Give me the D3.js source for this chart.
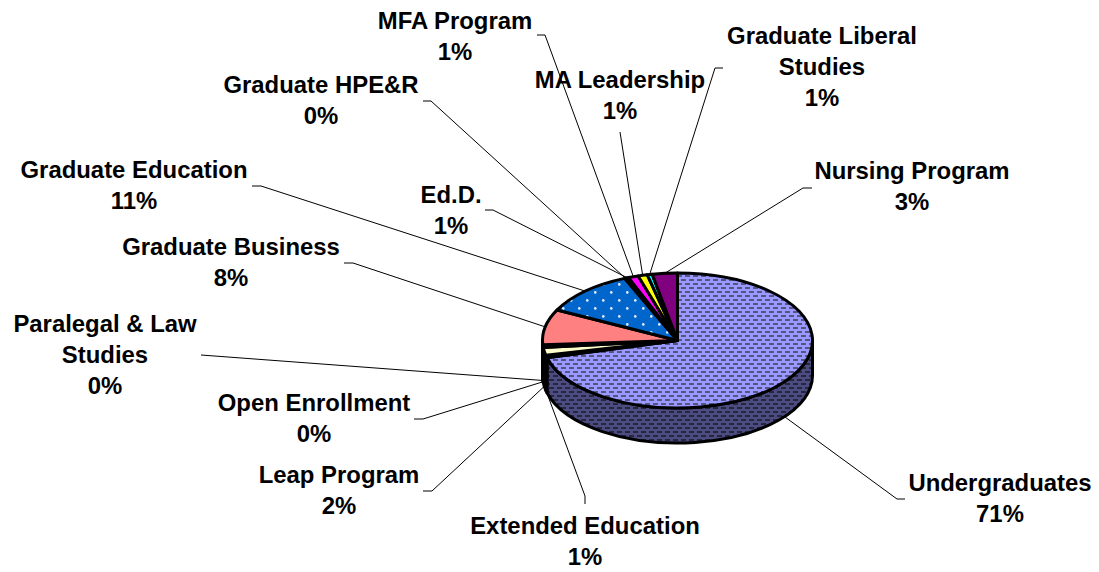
<!DOCTYPE html>
<html>
<head>
<meta charset="utf-8">
<script src="https://cdn.jsdelivr.net/npm/d3@7"></script>
<style>
html, body { margin: 0; padding: 0; background: #fff; }
text { font-family: "Liberation Sans", Arial, sans-serif; font-weight: bold; font-size: 23.9px; fill: #000; }
</style>
</head>
<body>
<div id="chart"></div>
<script>
const categories = ["Undergraduates", "Extended Education", "Leap Program", "Open Enrollment", "Paralegal & Law Studies",
    "Graduate Business", "Graduate Education", "Graduate HPE&R", "Ed.D.", "MFA Program", "MA Leadership",
    "Graduate Liberal Studies", "Nursing Program"];
const shares = [70.8, 0.6, 1.9, 0.3, 0.3, 8.5, 11.1, 0.2, 0.3, 1.2, 1.1, 0.6, 3.0];
const percentLabels = ["71%", "1%", "2%", "0%", "0%", "8%", "11%", "0%", "1%", "1%", "1%", "1%", "3%"];
const sliceColors = ["#9999FF", "#993366", "#FFFFCC", "#CCFFFF", "#660066", "#FF8080", "#0066CC",
    "#CCCCFF", "#000080", "#FF00FF", "#FFFF00", "#00FFFF", "#800080"];

// label placement: wrapped name lines, centre x, centre y of first line, leader start + elbow
const labelLayout = [
    {lines: ["Undergraduates"], x: 1000, y: 483, leader: [[905, 499], [897, 499]]},
    {lines: ["Extended Education"], x: 585, y: 526, leader: [[585, 504], [585, 496]]},
    {lines: ["Leap Program"], x: 339, y: 475, leader: [[423, 491], [432, 491]]},
    {lines: ["Open Enrollment"], x: 314, y: 403, leader: [[414, 419], [423, 419]]},
    {lines: ["Paralegal & Law", "Studies"], x: 105, y: 324, leader: [[201, 355]]},
    {lines: ["Graduate Business"], x: 231, y: 247, leader: [[344, 263], [353, 263]]},
    {lines: ["Graduate Education"], x: 134, y: 170, leader: [[252, 186], [261, 186]]},
    {lines: ["Graduate HPE&R"], x: 321, y: 85, leader: [[423, 101], [431, 101]]},
    {lines: ["Ed.D."], x: 451, y: 195, leader: [[485, 210], [493, 210]]},
    {lines: ["MFA Program"], x: 455, y: 21, leader: [[537, 35], [545, 35]]},
    {lines: ["MA Leadership"], x: 620, y: 80, leader: [[620, 132]]},
    {lines: ["Graduate Liberal", "Studies"], x: 822, y: 36, leader: [[723, 68], [715, 68]]},
    {lines: ["Nursing Program"], x: 912, y: 171, leader: [[812, 188], [803, 188]]}
];

const width = 1099, height = 572;
const cx = 677.5, cy = 340.5, rx = 135, ry = 67.5, depth = 35;
const lineHeight = 31;

const svg = d3.select("#chart").append("svg")
    .attr("width", width)
    .attr("height", height)
    .style("display", "block");

const defs = svg.append("defs");

function dashPattern(id, bg, dash) {
    const p = defs.append("pattern").attr("id", id)
        .attr("patternUnits", "userSpaceOnUse").attr("width", 8).attr("height", 8);
    p.append("rect").attr("width", 8).attr("height", 8).attr("fill", bg);
    [[1, 7], [1, -1], [5, 3], [-3, 3]].forEach(d => {
        p.append("rect").attr("x", d[0]).attr("y", d[1]).attr("width", 5).attr("height", 2).attr("fill", dash);
    });
    return "url(#" + id + ")";
}

const topFill = dashPattern("dashTop", "#9999FF", "#55557f");
const wallFill = dashPattern("dashWall", "#4c4c80", "#26263f");

const dots = defs.append("pattern").attr("id", "dots")
    .attr("patternUnits", "userSpaceOnUse").attr("width", 16).attr("height", 16);
dots.append("rect").attr("width", 16).attr("height", 16).attr("fill", "#0066CC");
[[3.3, 4.4], [11.3, 12.4]].forEach(d => {
    dots.append("circle").attr("cx", d[0]).attr("cy", d[1]).attr("r", 1.3).attr("fill", "#e6f0ff");
});

const pie = d3.pie().sort(null).value(d => d)(shares);

const px = a => cx + rx * Math.sin(a);
const py = a => cy - ry * Math.cos(a);

function slicePath(d) {
    const large = d.endAngle - d.startAngle > Math.PI ? 1 : 0;
    return `M${cx},${cy}L${px(d.startAngle)},${py(d.startAngle)}A${rx},${ry} 0 ${large} 1 ${px(d.endAngle)},${py(d.endAngle)}Z`;
}

// wall of the slice, only the part facing the viewer (90 to 270 degrees)
function wallPath(d) {
    const a0 = Math.max(d.startAngle, Math.PI / 2), a1 = Math.min(d.endAngle, Math.PI * 1.5);
    if (a1 <= a0) return null;
    return `M${px(a0)},${py(a0)}A${rx},${ry} 0 0 1 ${px(a1)},${py(a1)}` +
        `L${px(a1)},${py(a1) + depth}A${rx},${ry} 0 0 0 ${px(a0)},${py(a0) + depth}Z`;
}

svg.append("g").selectAll("path")
    .data(pie.filter(d => wallPath(d)))
    .enter()
    .append("path")
    .attr("d", wallPath)
    .attr("fill", d => d.index === 0 ? wallFill : d3.color(sliceColors[d.index]).darker(1.5))
    .attr("stroke", "#000")
    .attr("stroke-width", 3)
    .attr("stroke-linejoin", "round");

svg.append("g").selectAll("path")
    .data(pie)
    .enter()
    .append("path")
    .attr("d", slicePath)
    .attr("fill", d => d.index === 0 ? topFill : d.index === 6 ? "url(#dots)" : sliceColors[d.index])
    .attr("stroke", "#000")
    .attr("stroke-width", 3)
    .attr("stroke-linejoin", "round");

// leader lines end on the outer rim at the middle of each slice
const leaderLine = d3.line();
svg.append("g").selectAll("path")
    .data(pie)
    .enter()
    .append("path")
    .attr("fill", "none")
    .attr("stroke", "#000")
    .attr("stroke-width", 1)
    .attr("d", d => {
        const mid = (d.startAngle + d.endAngle) / 2;
        const front = Math.cos(mid) < 0 ? depth : 0;
        return leaderLine(labelLayout[d.index].leader.concat([[px(mid), py(mid) + front]]));
    });

const labels = svg.append("g").selectAll("text")
    .data(labelLayout)
    .enter()
    .append("text")
    .attr("text-anchor", "middle");

labels.each(function(d, i) {
    const t = d3.select(this);
    d.lines.concat(percentLabels[i]).forEach((s, k) => {
        t.append("tspan")
            .attr("x", d.x)
            .attr("y", d.y + k * lineHeight + 8)
            .text(s);
    });
});
</script>
</body>
</html>
